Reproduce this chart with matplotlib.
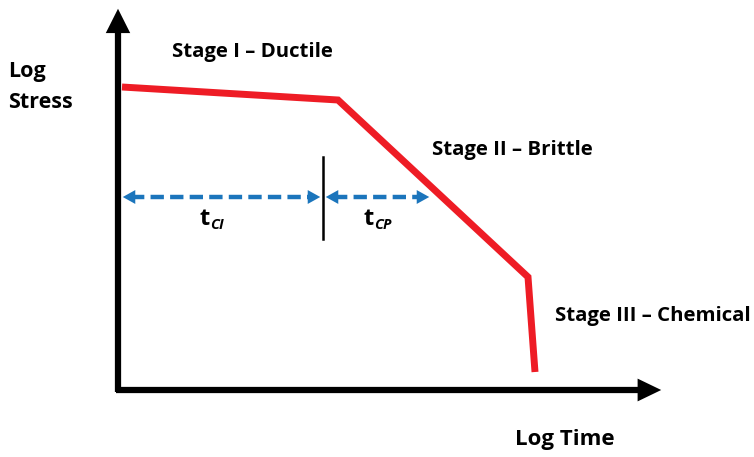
import matplotlib
matplotlib.use("Agg")
import matplotlib.pyplot as plt
from matplotlib.patches import FancyArrowPatch

# Conceptual curve (diagram coordinates, pixel-like units, y downward)
curve_time = [122, 338, 528, 535]
curve_stress = [87, 100, 277, 372]

stage_labels = ["Stage I \u2013 Ductile", "Stage II \u2013 Brittle", "Stage III \u2013 Chemical"]
stage_pos = [(252, 52), (432, 150), (555, 316)]

split_x = 323
arrow_y = 197
arrow_left = 120
arrow_right = 432

fig = plt.figure(figsize=(7.54, 4.57), dpi=100)
ax = fig.add_axes([0, 0, 1, 1])
ax.set_xlim(0, 754)
ax.set_ylim(457, 0)
ax.axis("off")

font = dict(family=["Open Sans", "DejaVu Sans"], fontweight="bold", color="black")

# axes arrows
ax.plot([118, 118], [392, 25], color="black", lw=4.5, solid_capstyle="butt")
ax.add_patch(FancyArrowPatch((118, 32), (118, 6), arrowstyle="-|>,head_length=1.75,head_width=0.88",
                             mutation_scale=10, color="black", lw=0))
ax.plot([116, 645], [390, 390], color="black", lw=4.5, solid_capstyle="butt")
ax.add_patch(FancyArrowPatch((636, 390), (664, 390), arrowstyle="-|>,head_length=1.7,head_width=0.82",
                             mutation_scale=10, color="black", lw=0))

# red curve
ax.plot(curve_time, curve_stress, color="#EE1C25", lw=5, solid_joinstyle="miter", solid_capstyle="butt")

# divider
ax.plot([split_x, split_x], [157, 239], color="black", lw=1.8)

# blue dashed double arrows
for a, b in [(arrow_left, split_x), (split_x, arrow_right)]:
    ax.plot([a + 11, b - 11], [arrow_y, arrow_y], color="#1B75BC", lw=3.2, dashes=(3, 1.4))
    for tip, tail in [(a, a + 14), (b, b - 14)]:
        ax.add_patch(FancyArrowPatch((tail, arrow_y), (tip, arrow_y),
                                     arrowstyle="-|>,head_length=0.9,head_width=0.5",
                                     mutation_scale=10, color="#1B75BC", lw=0))

# texts
ax.text(8, 72, "Log", fontsize=15.5, ha="left", va="center", **font)
ax.text(8, 103, "Stress", fontsize=15.5, ha="left", va="center", **font)
ax.text(stage_pos[0][0], stage_pos[0][1], stage_labels[0], fontsize=14.7, ha="center", va="center", **font)
ax.text(stage_pos[1][0], stage_pos[1][1], stage_labels[1], fontsize=14.7, ha="left", va="center", **font)
ax.text(stage_pos[2][0], stage_pos[2][1], stage_labels[2], fontsize=14.7, ha="left", va="center", **font)
ax.text(565, 440, "Log Time", fontsize=16, ha="center", va="center", **font)

sub_font = dict(family=["Open Sans", "DejaVu Sans"], fontweight="bold", style="italic", color="black")
for x0, sub in [(199, "CI"), (363, "CP")]:
    ax.text(x0, 219, "t", fontsize=17, ha="left", va="center", **font)
    ax.text(x0 + 11, 225, sub, fontsize=10.5, ha="left", va="center", **sub_font)

fig.savefig("out.png", dpi=100)
